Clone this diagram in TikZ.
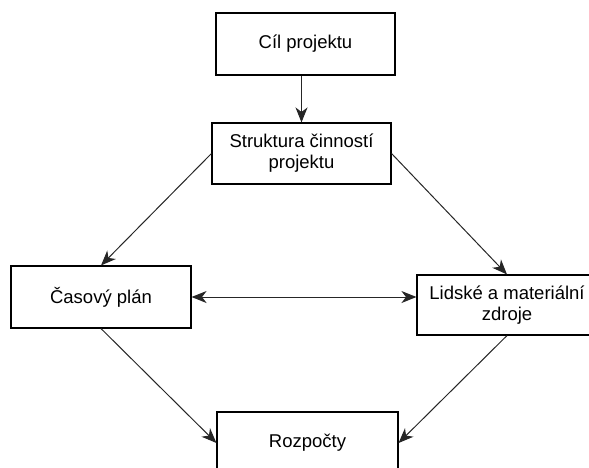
\documentclass[tikz,border=0pt]{standalone}
\usepackage{fontspec}
\setmainfont{Liberation Sans}
\usetikzlibrary{arrows.meta}

\tikzset{
  tip/.tip={Stealth[length=15pt, width=12pt, inset=4.5pt]},
  box/.style={draw=black, line width=1.1pt, fill=white, inner sep=0pt,
    align=center, font=\fontsize{18.5pt}{21pt}\selectfont},
  link/.style={draw=black!85, line width=1pt, -tip},
  twolink/.style={draw=black!85, line width=1pt, tip-tip}
}

\begin{document}
\begin{tikzpicture}[x=1pt, y=-1pt]
  \useasboundingbox (0,0) rectangle (589,467);
  \clip (0,0) rectangle (589,467);

  % project blocks
  \node[box, minimum width=179pt, minimum height=62pt] (cil) at (305.5,44) {Cíl projektu};
  \node[box, minimum width=179pt, minimum height=61pt] (struk) at (301.5,153.5) {Struktura činností\\projektu};
  \node[box, minimum width=180pt, minimum height=62pt] (cas) at (101,297) {Časový plán};
  \node[box, minimum width=180pt, minimum height=60pt] (zdroje) at (507,305) {Lidské a materiální\\zdroje};
  \node[box, minimum width=181pt, minimum height=62pt] (rozp) at (307.5,443) {Rozpočty};

  % dependencies
  \draw[link] (struk.north |- cil.south) -- (struk.north);
  \draw[link] (struk.west) -- (cas.north);
  \draw[link] (struk.east) -- (zdroje.north);
  \draw[twolink] (cas.east) -- (cas.east -| zdroje.west);
  \draw[link] (cas.south) -- (rozp.west);
  \draw[link] (zdroje.south) -- (rozp.east);
\end{tikzpicture}
\end{document}
